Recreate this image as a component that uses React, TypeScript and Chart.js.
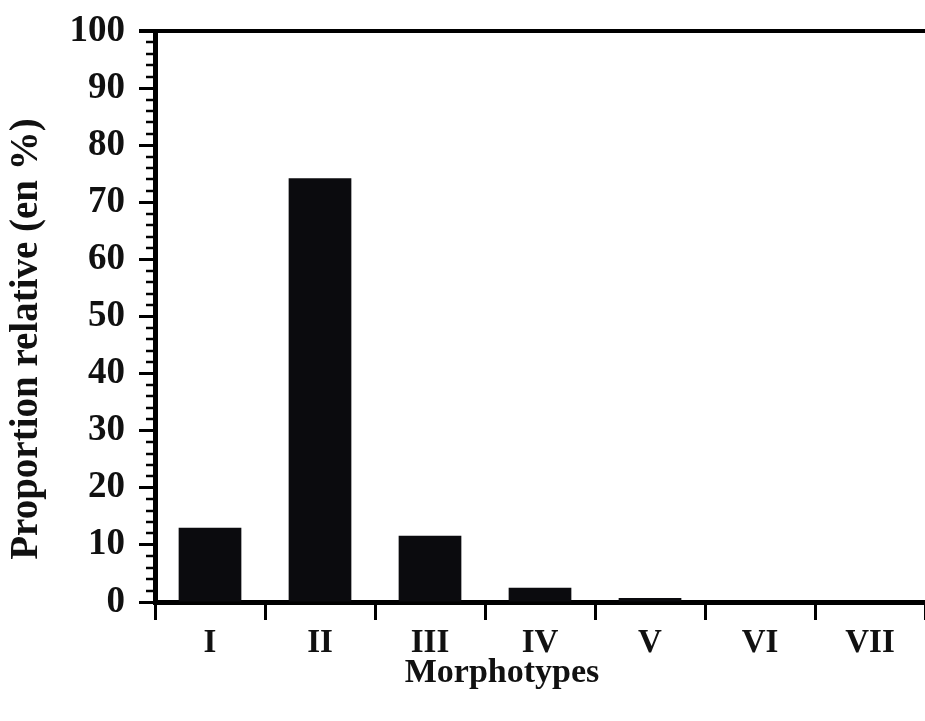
import React, { useEffect, useRef } from "react";
import { Chart, registerables } from "chart.js";

Chart.register(...registerables);

const categories: string[] = ["I", "II", "III", "IV", "V", "VI", "VII"];
const proportions: number[] = [13, 74.2, 11.6, 2.5, 0.7, 0, 0];
const yMajorStep = 10;
const yMinorStep = 2;
const yMax = 100;
const yTitle = "Proportion relative (en %)";
const xTitle = "Morphotypes";

const FONT = "'Liberation Serif', 'Times New Roman', serif";

export default function App() {
  const ref = useRef<HTMLCanvasElement | null>(null);

  useEffect(() => {
    document.body.style.margin = "0";
    const canvas = ref.current;
    if (!canvas) return;

    const framePlugin = {
      id: "frame",
      afterDraw(chart: any) {
        const { ctx, chartArea } = chart;
        const y = chart.scales.y;
        ctx.save();
        ctx.strokeStyle = "#000";
        // minor ticks
        ctx.lineWidth = 2.5;
        for (let v = 0; v <= yMax; v += yMinorStep) {
          if (v % yMajorStep === 0) continue;
          const py = Math.round(y.getPixelForValue(v));
          ctx.beginPath();
          ctx.moveTo(chartArea.left - 9, py);
          ctx.lineTo(chartArea.left, py);
          ctx.stroke();
        }
        // top border
        ctx.lineWidth = 4;
        const top = y.getPixelForValue(yMax);
        ctx.beginPath();
        ctx.moveTo(chartArea.left - 16, top);
        ctx.lineTo(chart.width, top);
        ctx.stroke();
        // x title
        ctx.fillStyle = "#111";
        ctx.font = "bold 34px " + FONT;
        ctx.textAlign = "center";
        ctx.textBaseline = "middle";
        ctx.fillText(xTitle, (chartArea.left + chartArea.right) / 2 - 38, 673);
        // y title
        ctx.translate(27, 339);
        ctx.rotate(-Math.PI / 2);
        ctx.font = "bold 39px " + FONT;
        ctx.fillText(yTitle, 0, 0);
        ctx.restore();
      },
    };

    const chart = new Chart(canvas, {
      type: "bar",
      data: {
        labels: categories,
        datasets: [
          {
            data: proportions,
            backgroundColor: "#0b0b0e",
            borderWidth: 0,
            categoryPercentage: 1,
            barPercentage: 0.57,
          },
        ],
      },
      options: {
        animation: false,
        responsive: true,
        maintainAspectRatio: false,
        layout: { padding: { top: 31, right: 0, left: 0, bottom: 0 } },
        plugins: { legend: { display: false }, tooltip: { enabled: false } },
        scales: {
          x: {
            offset: true,
            grid: {
              offset: true,
              drawOnChartArea: false,
              drawTicks: true,
              tickLength: 18,
              tickWidth: 3,
              tickColor: "#000",
            },
            border: { display: true, color: "#000", width: 5 },
            ticks: {
              color: "#111",
              padding: 4,
              font: { family: FONT, size: 33, weight: "bold" },
              maxRotation: 0,
            },
            afterFit(scale: any) {
              scale.height = 119;
            },
          },
          y: {
            min: 0,
            max: yMax,
            grid: {
              drawOnChartArea: false,
              drawTicks: true,
              tickLength: 16,
              tickWidth: 3,
              tickColor: "#000",
            },
            border: { display: true, color: "#000", width: 5 },
            ticks: {
              stepSize: yMajorStep,
              color: "#111",
              padding: 14,
              font: { family: FONT, size: 37, weight: "bold", lineHeight: 0.9 },
            },
            afterFit(scale: any) {
              scale.width = 155;
            },
          },
        },
      },
      plugins: [framePlugin],
    });

    return () => chart.destroy();
  }, []);

  return (
    <div style={{ width: 925, height: 721, position: "relative" }}>
      <canvas ref={ref} />
    </div>
  );
}
